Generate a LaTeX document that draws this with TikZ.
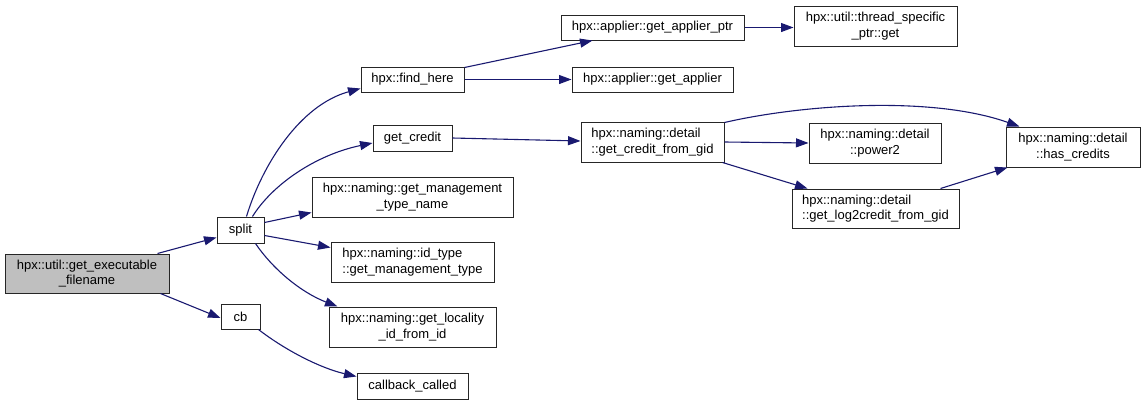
\documentclass[tikz,border=0pt]{standalone}
\usepackage{fontspec}
\setmainfont{Liberation Sans}
\usetikzlibrary{arrows.meta,calc}
\definecolor{edgecol}{HTML}{191970}
\definecolor{rootfill}{HTML}{BFBFBF}
\begin{document}
\begin{tikzpicture}[x=1pt,y=-1pt,
  box/.style={draw=black!85,line width=1pt,fill=white,inner sep=0pt,align=center,
    font=\fontsize{13}{15.5}\selectfont},
  lbox/.style={box,align=left},
  edge/.style={draw=edgecol,line width=1.1pt,-{Triangle[length=12.5pt,width=9pt]}}]
\useasboundingbox (0,0) rectangle (1144,405);
% nodes
\node[box,fill=rootfill,minimum width=164pt,minimum height=39pt] (root) at (87,273.5) {hpx::util::get\_executable\\\_filename};
\node[box,minimum width=47pt,minimum height=26pt] (split) at (240.5,230) {split};
\node[box,minimum width=39pt,minimum height=25pt] (cb) at (240.5,316.5) {cb};
\node[box,minimum width=103pt,minimum height=25pt] (findhere) at (412.5,79.5) {hpx::find\_here};
\node[box,minimum width=183pt,minimum height=25pt] (gap) at (652.5,27.5) {hpx::applier::get\_applier\_ptr};
\node[box,minimum width=163pt,minimum height=40pt] (tsp) at (875.5,26) {hpx::util::thread\_specific\\\_ptr::get};
\node[box,minimum width=161pt,minimum height=25pt] (ga) at (652.5,79.5) {hpx::applier::get\_applier};
\node[box,minimum width=79pt,minimum height=26pt] (getcredit) at (412.5,138) {get\_credit};
\node[box,minimum width=201pt,minimum height=40pt] (mgmt) at (412.5,197) {hpx::naming::get\_management\\\_type\_name};
\node[lbox,minimum width=163pt,minimum height=40pt] (idtype) at (412.5,262) {hpx::naming::id\_type\\::get\_management\_type};
\node[box,minimum width=167pt,minimum height=40pt] (locality) at (412.5,327) {hpx::naming::get\_locality\\\_id\_from\_id};
\node[box,minimum width=111pt,minimum height=26pt] (cbcalled) at (412.5,386) {callback\_called};
\node[lbox,minimum width=143pt,minimum height=40pt] (gcfg) at (652.5,142) {hpx::naming::detail\\::get\_credit\_from\_gid};
\node[box,minimum width=132pt,minimum height=40pt] (power2) at (875,143) {hpx::naming::detail\\::power2};
\node[lbox,minimum width=167pt,minimum height=39pt] (log2) at (875.5,208.5) {hpx::naming::detail\\::get\_log2credit\_from\_gid};
\node[box,minimum width=134pt,minimum height=40pt] (has) at (1073,147) {hpx::naming::detail\\::has\_credits};
% edges
\draw[edge] ($(root.north east)+(-12,0)$) -- ($(split.south west)+(0,-6)$);
\draw[edge] ($(root.south east)+(-9,0)$) -- ($(cb.west)+(0,1.5)$);
\draw[edge] ($(split.north west)+(30,0)$) .. controls (262,165) and (300,105) .. ($(findhere.south west)+(0,-4)$);
\draw[edge] ($(split.north west)+(36,0)$) .. controls (272,185) and (315,155) .. ($(getcredit.west)+(0,5)$);
\draw[edge] ($(split.north east)+(0,6)$) -- ($(mgmt.south west)+(0,-5)$);
\draw[edge] ($(split.south east)+(0,-8)$) -- ($(idtype.north west)+(0,6)$);
\draw[edge] ($(split.south east)+(-9,0)$) .. controls (272,268) and (300,292) .. ($(locality.north west)+(9,0)$);
\draw[edge] ($(cb.south east)+(-2,0)$) .. controls (285,350) and (320,368) .. ($(cbcalled.north west)+(0,4)$);
\draw[edge] ($(findhere.north east)+(0,1)$) -- ($(gap.south west)+(32,0)$);
\draw[edge] (findhere.east) -- (ga.west);
\draw[edge] (gap.east) -- (gap.east -| tsp.west);
\draw[edge] (getcredit.east) -- ($(gcfg.west)+(0,-1)$);
\draw[edge] ($(gcfg.north east)+(0,1)$) .. controls (800,105) and (930,95) .. ($(has.north west)+(14,0)$);
\draw[edge] (gcfg.east) -- (power2.west);
\draw[edge] ($(gcfg.south east)+(-2,0)$) -- ($(log2.north west)+(16,0)$);
\draw[edge] ($(log2.north east)+(-19,0)$) -- ($(has.south west)+(2,0)$);
\end{tikzpicture}
\end{document}
